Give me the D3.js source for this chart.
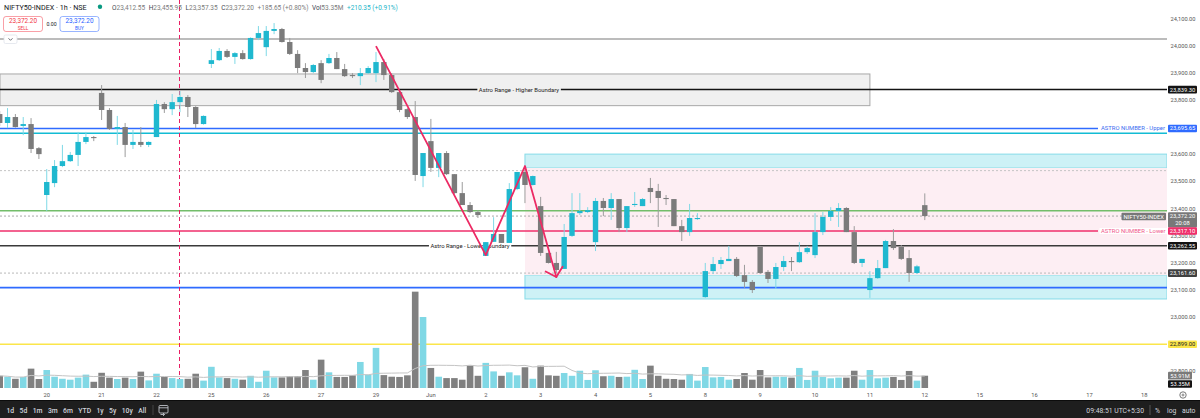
<!DOCTYPE html>
<html>
<head>
<meta charset="utf-8">
<script src="https://cdn.jsdelivr.net/npm/d3@7"></script>
<style>
  html, body { margin: 0; padding: 0; background: #fff; }
  svg { display: block; font-family: Roboto, "Noto Sans", "DejaVu Sans", sans-serif; }
</style>
</head>
<body>
<svg id="chart" width="1200" height="418"></svg>
<script>
// ---- data (NIFTY50-INDEX, 1h, 19 May .. 12 Jun) ----
// first visible bar is the 2nd hour of 19 May; 7 bars per session
const dayLabels = ["20", "21", "22", "25", "26", "27", "29", "Jun", "2", "3", "4", "5", "8", "9", "10", "11", "12", "15", "16", "17", "18"];
const firstLabelBar = 6;
const barsPerDay = 7;

const opens = [23749, 23716, 23738, 23705, 23712, 23623, 23450, 23494, 23557, 23575, 23598, 23646, 23664, 23827, 23764, 23694, 23701, 23635, 23646, 23635,
  23664, 23786, 23767, 23793, 23812, 23775, 23712, 23934, 23948, 23982, 23960, 23974, 23952, 24030, 23996, 24056, 24063, 24015, 23971, 23919,
  23904, 23937, 23937, 23956, 23915, 23893, 23889, 23900, 23900, 23941, 23893, 23830, 23767, 23738, 23520, 23649, 23550, 23605, 23527, 23457,
  23413, 23387, 23225, 23277, 23306, 23273, 23472, 23535, 23487, 23409, 23236, 23199, 23177, 23299, 23383, 23387, 23276, 23428, 23402, 23435,
  23328, 23413, 23409, 23476, 23465, 23439, 23435, 23335, 23313, 23361, 23073, 23169, 23195, 23206, 23214, 23154, 23129, 23258, 23166, 23140,
  23184, 23206, 23202, 23239, 23228, 23313, 23369, 23391, 23402, 23313, 23199, 23099, 23143, 23180, 23280, 23258, 23217, 23162, 23412.55];
const highs = [23760, 23771, 23749, 23738, 23734, 23627, 23546, 23579, 23635, 23609, 23683, 23683, 23668, 23856, 23771, 23742, 23716, 23690, 23701, 23648,
  23801, 23793, 23823, 23834, 23819, 23778, 23744, 23989, 23993, 23989, 23978, 23985, 24032, 24074, 24074, 24085, 24067, 24030, 23985, 23937,
  23934, 23948, 23971, 23978, 23934, 23900, 23919, 23926, 23978, 23952, 23900, 23838, 23771, 23797, 23605, 23731, 23605, 23612, 23527, 23498,
  23424, 23394, 23276, 23368, 23306, 23494, 23535, 23553, 23522, 23443, 23238, 23240, 23343, 23457, 23457, 23405, 23439, 23439, 23457, 23435,
  23409, 23461, 23439, 23513, 23491, 23450, 23435, 23358, 23417, 23383, 23199, 23221, 23221, 23262, 23221, 23192, 23136, 23262, 23173, 23199,
  23225, 23221, 23276, 23262, 23383, 23387, 23405, 23420, 23405, 23335, 23214, 23169, 23210, 23284, 23324, 23265, 23247, 23192, 23455.95];
const lows = [23705, 23697, 23699, 23671, 23605, 23583, 23391, 23479, 23553, 23572, 23557, 23638, 23649, 23727, 23690, 23635, 23590, 23620, 23627, 23627,
  23664, 23753, 23745, 23756, 23738, 23697, 23710, 23919, 23945, 23956, 23934, 23950, 23950, 24022, 23963, 24044, 24013, 23967, 23900, 23882,
  23900, 23863, 23934, 23915, 23886, 23882, 23856, 23897, 23867, 23875, 23827, 23756, 23731, 23502, 23479, 23535, 23516, 23524, 23454, 23413,
  23383, 23365, 23225, 23277, 23273, 23273, 23468, 23420, 23485, 23225, 23197, 23162, 23177, 23295, 23376, 23383, 23243, 23372, 23358, 23313,
  23313, 23406, 23409, 23420, 23332, 23413, 23335, 23280, 23299, 23358, 23070, 23158, 23177, 23206, 23147, 23107, 23088, 23158, 23125, 23103,
  23169, 23169, 23199, 23232, 23217, 23302, 23354, 23332, 23313, 23195, 23184, 23070, 23140, 23180, 23247, 23210, 23129, 23158, 23357.35];
const closes = [23716, 23738, 23701, 23712, 23620, 23601, 23498, 23557, 23575, 23598, 23646, 23664, 23660, 23764, 23694, 23701, 23635, 23646, 23635, 23646,
  23786, 23767, 23793, 23812, 23775, 23712, 23742, 23948, 23982, 23960, 23974, 23952, 24030, 24048, 24056, 24063, 24015, 23971, 23919, 23904,
  23930, 23875, 23956, 23915, 23889, 23889, 23900, 23919, 23941, 23893, 23830, 23764, 23738, 23524, 23605, 23550, 23605, 23527, 23457, 23413,
  23387, 23376, 23276, 23306, 23273, 23472, 23535, 23487, 23520, 23236, 23199, 23173, 23295, 23383, 23391, 23394, 23428, 23402, 23435, 23328,
  23409, 23417, 23435, 23461, 23439, 23435, 23335, 23313, 23365, 23365, 23169, 23195, 23210, 23214, 23151, 23129, 23099, 23162, 23140, 23184,
  23206, 23202, 23239, 23254, 23313, 23369, 23391, 23402, 23313, 23199, 23214, 23143, 23180, 23280, 23254, 23214, 23162, 23186.55, 23372.20];
// volume, millions
const volumes = [53, 49, 40, 48, 84, 39, 78, 49, 40, 36, 45, 58, 27, 66, 45, 39, 45, 39, 71, 33,
  62, 48, 43, 39, 40, 62, 32, 92, 46, 43, 40, 36, 53, 27, 75, 46, 46, 51, 51, 78,
  36, 123, 68, 48, 48, 55, 113, 58, 174, 56, 49, 48, 55, 418, 308, 87, 49, 43, 43, 36,
  97, 53, 109, 72, 53, 68, 55, 90, 40, 97, 55, 53, 65, 53, 75, 35, 77, 51, 53, 48,
  49, 79, 39, 97, 53, 40, 39, 36, 61, 32, 91, 46, 48, 36, 39, 65, 36, 78, 46, 49,
  49, 45, 87, 35, 75, 48, 42, 45, 45, 75, 36, 78, 42, 45, 48, 35, 74, 32, 53.35];
const volMaLast = 53.91;
const extChange = "+210.35 (+0.91%)";
const countdown = "20:08";

// horizontal levels (price)
const levelTopGray = 24026;
const higherZone = [23780, 23897];
const higherZoneEndBar = 111;
const astroHigh = 23839.30;
const astroUpper = 23695.65;
const cyanLevel = 23678;
const dottedUpper = 23540;
const greenLevel = 23392;
const astroLower = 23317.10;
const astroLowBound = 23262.55;
const dottedLower = 23161.60;
const blueLevel = 23108;
const yellowLevel = 22899;
// range box drawn from bar 67 to the right edge
const rangeStartBar = 67;
const rangeUpperBand = [23550, 23601];
const rangePink = [23154, 23550];
const rangeLowerBand = [23066, 23154];
// zigzag drawing
const zigBars = [48, 62, 67, 71];
const zigPrices = [24000, 23228, 23557, 23147];
const markerBar = 23;

// ---- layout ----
const svg = d3.select("#chart");
const plotRight = 1167, volBottom = 388;

const x = d3.scaleLinear().domain([0, 146]).range([-0.3, 1144.3]);
const y = d3.scaleLinear().domain([22800, 24100]).range([371, 19]);
const yv = d3.scaleLinear().domain([0, 420]).range([volBottom, 291.2]);

const upColor = "#1fb8cf", downColor = "#7b7b7b";
const upWick = "#7fd9e6", downWick = "#9c9c9c";
const upVol = "#80d8e5", downVol = "#808080";

const bars = d3.range(opens.length).map(i => ({
  i, o: opens[i], h: highs[i], l: lows[i], c: closes[i], v: volumes[i], up: closes[i] >= opens[i]
}));

svg.append("rect").attr("width", 1200).attr("height", 418).attr("fill", "#fff");
svg.append("clipPath").attr("id", "plot").append("rect")
  .attr("x", 0).attr("y", 0).attr("width", plotRight).attr("height", volBottom + 1);

const g = svg.append("g").attr("clip-path", "url(#plot)");

// higher boundary zone
g.append("rect")
  .attr("x", 0).attr("width", x(higherZoneEndBar))
  .attr("y", y(higherZone[1])).attr("height", y(higherZone[0]) - y(higherZone[1]))
  .attr("fill", "#f0f0f0").attr("stroke", "#a8a8a8").attr("stroke-width", 1);

// range boxes
const rx = x(rangeStartBar);
[[rangeUpperBand, "#cdf1f6", "#86dbe8"], [rangeLowerBand, "#cdf1f6", "#86dbe8"], [rangePink, "#fdeef3", "none"]]
  .forEach(([band, fill, stroke]) => {
    g.append("rect")
      .attr("x", rx).attr("width", plotRight - rx)
      .attr("y", y(band[1])).attr("height", y(band[0]) - y(band[1]))
      .attr("fill", fill).attr("stroke", stroke).attr("stroke-width", 1);
  });

function hline(price, color, width, dash, x0 = 0, x1 = plotRight) {
  g.append("line")
    .attr("x1", x0).attr("x2", x1)
    .attr("y1", y(price)).attr("y2", y(price))
    .attr("stroke", color).attr("stroke-width", width)
    .attr("stroke-dasharray", dash || null);
}

hline(levelTopGray, "#a6a6a6", 1.5);
hline(dottedUpper, "#c4c4c4", 1, "2,2");
hline(closes[closes.length - 1], "#a9a9a9", 1, "2,2");
hline(dottedLower, "#b8b8b8", 1, "2,2");
hline(cyanLevel, "#13bcd4", 1.3);
hline(greenLevel, "#73bd6a", 1.5);
hline(yellowLevel, "#fbe64a", 1.5);
hline(blueLevel, "#2f6bff", 1.8);
hline(astroHigh, "#131313", 1.5);
hline(astroLowBound, "#3a3a3a", 1.5);
hline(astroUpper, "#2f6bff", 1.5, null, 0, 1098);
hline(astroLower, "#ef2f6b", 1.5, null, 0, 1098);

// vertical dashed marker
g.append("line")
  .attr("x1", x(markerBar) - 0.5).attr("x2", x(markerBar) - 0.5)
  .attr("y1", 0).attr("y2", volBottom)
  .attr("stroke", "#e91e63").attr("stroke-width", 1).attr("stroke-dasharray", "4,3");

// line labels
function lineLabel(text, cx, price, bg, color, anchor = "middle") {
  const t = g.append("text")
    .attr("x", cx).attr("y", y(price) + 2)
    .attr("text-anchor", anchor)
    .attr("font-size", 5.9).attr("fill", color)
    .text(text);
  const bb = t.node().getBBox();
  g.insert("rect", () => t.node())
    .attr("x", bb.x - 1.5).attr("y", y(price) - 3)
    .attr("width", bb.width + 3).attr("height", 6)
    .attr("fill", bg);
}
lineLabel("Astro Range - Higher Boundary", 519, astroHigh, "#f0f0f0", "#222");
lineLabel("Astro Range - Lower Boundary", 470, astroLowBound, "#fff", "#222");
lineLabel("ASTRO NUMBER - Upper", 1101, astroUpper, "#fff", "#3a6cf0", "start");
lineLabel("ASTRO NUMBER - Lower", 1101, astroLower, "#fff", "#f0578a", "start");

// volume
g.selectAll(".vol").data(bars).join("rect")
  .attr("class", "vol")
  .attr("x", d => x(d.i) - 3.3).attr("width", 6.6)
  .attr("y", d => yv(d.v)).attr("height", d => volBottom - yv(d.v))
  .attr("fill", d => d.up ? upVol : downVol);

const volMa = volumes.map((v, i) => d3.mean(volumes.slice(Math.max(0, i - 19), i + 1)));
g.append("path")
  .datum(volMa)
  .attr("fill", "none").attr("stroke", "#c4c4c4").attr("stroke-width", 1)
  .attr("d", d3.line().x((d, i) => x(i)).y(d => yv(d)));

// candles
const candle = g.selectAll(".candle").data(bars).join("g").attr("class", "candle");
candle.append("line")
  .attr("x1", d => x(d.i)).attr("x2", d => x(d.i))
  .attr("y1", d => y(d.h)).attr("y2", d => y(d.l))
  .attr("stroke", d => d.up ? upWick : downWick).attr("stroke-width", 1);
candle.append("rect")
  .attr("x", d => x(d.i) - 2.7).attr("width", 5.4)
  .attr("y", d => y(Math.max(d.o, d.c)))
  .attr("height", d => Math.max(1, Math.abs(y(d.o) - y(d.c))))
  .attr("fill", d => d.up ? upColor : downColor);

// zigzag drawing with arrow head
const zig = zigBars.map((b, k) => [x(b), y(zigPrices[k])]);
g.append("path")
  .attr("d", d3.line()(zig))
  .attr("fill", "none").attr("stroke", "#ec2a64").attr("stroke-width", 1.8)
  .attr("stroke-linejoin", "round");
const [pa, pb] = zig.slice(-2);
const back = Math.atan2(pa[1] - pb[1], pa[0] - pb[0]);
[-0.82, 0.82].forEach(da => {
  g.append("line")
    .attr("x1", pb[0]).attr("y1", pb[1])
    .attr("x2", pb[0] + 12 * Math.cos(back + da)).attr("y2", pb[1] + 12 * Math.sin(back + da))
    .attr("stroke", "#ec2a64").attr("stroke-width", 1.8).attr("stroke-linecap", "round");
});

// ---- header ----
const head = svg.append("g");
head.append("text").attr("x", 4).attr("y", 9.5).attr("font-size", 7.2).attr("fill", "#131722")
  .text("NIFTY50-INDEX · 1h · NSE");
head.append("circle").attr("cx", 100).attr("cy", 6.8).attr("r", 2.2).attr("fill", "#089981");
const last = bars[bars.length - 1];
const fmt = d3.format(",.2f");
const chg = last.c - closes[closes.length - 2];
const legend = [
  ["O", fmt(last.o), "#7b7b7b"], ["H", fmt(last.h), "#7b7b7b"], ["L", fmt(last.l), "#7b7b7b"], ["C", fmt(last.c), "#7b7b7b"],
  ["", "+" + fmt(chg) + " (+" + (chg / closes[closes.length - 2] * 100).toFixed(2) + "%)", "#7b7b7b"],
  ["Vol", last.v.toFixed(2) + "M", "#7b7b7b"],
  ["", extChange, "#22b5c9"]
];
let lx = 112;
legend.forEach(([k, v, col]) => {
  const t = head.append("text").attr("x", lx).attr("y", 9.5).attr("font-size", 6.5);
  if (k) t.append("tspan").attr("fill", "#434651").text(k);
  t.append("tspan").attr("fill", col).text(v);
  lx += t.node().getComputedTextLength() + 3.6;
});

// sell / buy
function tradeBox(x0, color, label) {
  head.append("rect").attr("x", x0).attr("y", 16.5).attr("width", 39).attr("height", 15).attr("rx", 2.5)
    .attr("fill", "#fff").attr("stroke", color).attr("stroke-width", 0.8).attr("stroke-opacity", 0.6);
  head.append("text").attr("x", x0 + 19.5).attr("y", 23.2).attr("text-anchor", "middle")
    .attr("font-size", 6.4).attr("fill", color).text(fmt(last.c));
  head.append("text").attr("x", x0 + 19.5).attr("y", 29.6).attr("text-anchor", "middle")
    .attr("font-size", 4.8).attr("fill", color).text(label);
}
tradeBox(3.5, "#f23645", "SELL");
tradeBox(60, "#2962ff", "BUY");
head.append("text").attr("x", 51.5).attr("y", 26).attr("text-anchor", "middle")
  .attr("font-size", 5.2).attr("fill", "#131722").text("0.00");
head.append("rect").attr("x", 4).attr("y", 35).attr("width", 13).attr("height", 8.5).attr("rx", 1.5)
  .attr("fill", "#fff").attr("stroke", "#e0e3eb").attr("stroke-width", 0.8);
head.append("path").attr("d", "M8.5,38.3 L10.5,40.3 L12.5,38.3")
  .attr("fill", "none").attr("stroke", "#434651").attr("stroke-width", 0.8);

// ---- price axis ----
const axis = svg.append("g");
axis.selectAll(".tick").data(d3.range(22800, 24101, 100)).join("text")
  .attr("x", 1183).attr("y", d => y(d) + 2)
  .attr("text-anchor", "middle").attr("font-size", 5.7).attr("fill", "#555")
  .text(d => fmt(d));

function tag(cy, lines, bg, fg, x0 = 1168, w = 29, anchorRight = false) {
  const h = 7.6 * lines.length;
  const r = axis.append("rect").attr("y", cy - 3.8).attr("height", h).attr("rx", 1).attr("fill", bg);
  const ts = lines.map((s, k) => axis.append("text").attr("y", cy + 2 + k * 7)
    .attr("text-anchor", "middle").attr("font-size", 5.8).attr("fill", fg).text(s));
  if (anchorRight) {
    w = d3.max(ts, t => t.node().getComputedTextLength()) + 4;
    x0 = x0 - w;
  }
  r.attr("x", x0).attr("width", w);
  ts.forEach(t => t.attr("x", x0 + w / 2));
}
tag(y(astroHigh), [fmt(astroHigh)], "#131313", "#fff");
tag(y(astroUpper), [fmt(astroUpper)], "#2f6bff", "#fff");
tag(y(last.c), [fmt(last.c), countdown], "#787878", "#fff");
tag(y(last.c) + 0.5, ["NIFTY50-INDEX"], "#787878", "#fff", 1166, 0, true);
tag(y(astroLower), [fmt(astroLower)], "#ef2f6b", "#fff");
tag(y(astroLowBound), [fmt(astroLowBound)], "#131313", "#fff");
tag(y(dottedLower), [fmt(dottedLower)], "#404040", "#fff");
tag(y(yellowLevel), [fmt(yellowLevel)], "#fbe64a", "#131722");
tag(yv(volMaLast), [volMaLast.toFixed(2) + "M"], "#7a7a7a", "#fff", 1168, 24);
tag(yv(last.v) + 8.3, [last.v.toFixed(2) + "M"], "#131313", "#fff", 1168, 24);

// ---- time axis ----
svg.selectAll(".day").data(dayLabels).join("text")
  .attr("x", (d, k) => x(firstLabelBar + k * barsPerDay)).attr("y", 397)
  .attr("text-anchor", "middle").attr("font-size", 5.8).attr("fill", "#555")
  .text(d => d);
svg.append("circle").attr("cx", 1183).attr("cy", 395).attr("r", 3.2)
  .attr("fill", "none").attr("stroke", "#6a6a6a").attr("stroke-width", 0.9);
svg.append("circle").attr("cx", 1183).attr("cy", 395).attr("r", 1)
  .attr("fill", "none").attr("stroke", "#6a6a6a").attr("stroke-width", 0.8);

// ---- bottom toolbar ----
const bar = svg.append("g");
bar.append("rect").attr("x", 0).attr("y", 400.5).attr("width", 1200).attr("height", 17.5).attr("fill", "#1e1e1e");
bar.append("rect").attr("x", 0).attr("y", 400).attr("width", 1200).attr("height", 1).attr("fill", "#0c0c0c");
const ranges = ["1d", "5d", "1m", "3m", "6m", "YTD", "1y", "5y", "10y", "All"];
let cx = 6.5;
ranges.forEach(r => {
  const t = bar.append("text").attr("x", cx).attr("y", 413).attr("font-size", 6.8)
    .attr("font-weight", 500).attr("fill", "#d1d4dc").text(r);
  cx += t.node().getComputedTextLength() + 5.4;
});
bar.append("line").attr("x1", 153).attr("x2", 153).attr("y1", 405).attr("y2", 415).attr("stroke", "#444");
bar.append("rect").attr("x", 159).attr("y", 405.5).attr("width", 9).attr("height", 7.5).attr("rx", 1)
  .attr("fill", "none").attr("stroke", "#d1d4dc").attr("stroke-width", 0.8);
bar.append("line").attr("x1", 159).attr("x2", 168).attr("y1", 407.8).attr("y2", 407.8)
  .attr("stroke", "#d1d4dc").attr("stroke-width", 0.8);
bar.append("path").attr("d", "M160.5,414.5 h4 m-1.5,-1.5 l1.5,1.5 l-1.5,1.5")
  .attr("fill", "none").attr("stroke", "#d1d4dc").attr("stroke-width", 0.8);
bar.append("text").attr("x", 1144).attr("y", 413).attr("text-anchor", "end").attr("font-size", 6.8)
  .attr("fill", "#d1d4dc").text("09:48:51 UTC+5:30");
bar.append("line").attr("x1", 1150).attr("x2", 1150).attr("y1", 405).attr("y2", 415).attr("stroke", "#555");
[["%", 1155], ["log", 1167], ["auto", 1182]].forEach(([s, px]) => {
  bar.append("text").attr("x", px).attr("y", 413).attr("font-size", 6.8).attr("fill", "#d1d4dc").text(s);
});
</script>
</body>
</html>
